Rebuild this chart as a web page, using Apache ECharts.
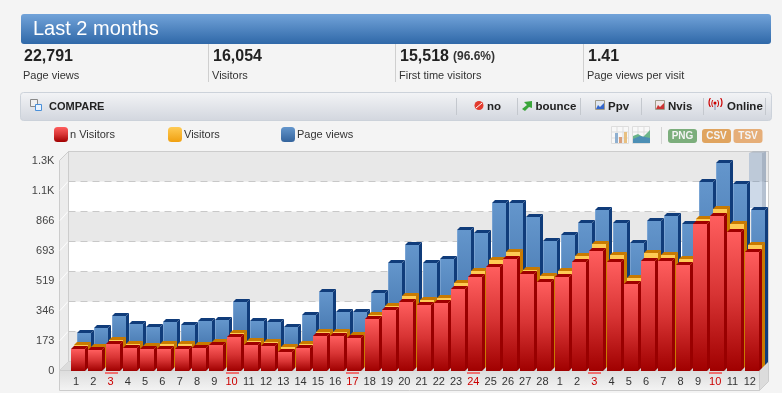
<!DOCTYPE html>
<html><head><meta charset="utf-8">
<style>html,body{margin:0;padding:0;background:#f4f4f4}#c{width:782px;height:393px}</style>
<script src="https://cdn.jsdelivr.net/npm/echarts@6/dist/echarts.min.js"></script>
</head><body><div id="c"></div>
<script>
const categories = ['1','2','3','4','5','6','7','8','9','10','11','12','13','14','15','16','17','18','19','20','21','22','23','24','25','26','27','28','1','2','3','4','5','6','7','8','9','10','11','12'];
const nVisitors = [122,118,153,132,122,126,124,130,147,195,149,143,109,128,201,201,186,296,350,398,377,392,469,542,600,642,556,510,539,629,690,629,500,634,631,610,845,894,802,686];
const visitors = [128,120,161,136,124,134,136,130,150,199,151,147,118,138,205,205,188,305,355,411,390,400,490,556,621,665,563,529,559,646,714,652,517,662,652,629,860,918,829,706];
const pageViews = [184,209,280,232,217,246,228,250,257,361,253,247,217,286,421,305,301,413,585,690,588,610,779,762,931,931,854,713,746,817,892,819,700,827,860,810,1056,1166,1041,892];
const yTickLabels = ['0','173','346','519','693','866','1.1K','1.3K'];
const markedDays = [2,9,16,23,30,37];
const stats = [['22,791','Page views'],['16,054','Visitors'],['15,518','First time visitors'],['1.41','Page views per visit']];

const FONT = '"Liberation Sans", Arial, sans-serif';
const yInterval = 520 / 3, yMax = yInterval * 7;
const L = (a, b) => new echarts.graphic.LinearGradient(0, 0, 0, 1, [{offset:0,color:a},{offset:1,color:b}]);
const L3 = (a, m, b) => new echarts.graphic.LinearGradient(0, 0, 0, 1, [{offset:0,color:a},{offset:.5,color:m},{offset:1,color:b}]);

function barLayer(name, values, depth, front, top, side, stroke, z) {
  return {
    type: 'custom', name, z, clip: false, silent: true,
    xAxisIndex: 0, yAxisIndex: 0, encode: {x: 0, y: 1},
    itemStyle: {color: front},
    data: values.map((v, i) => [i, v]),
    renderItem(params, api) {
      const p = api.coord([api.value(0), api.value(1)]);
      const b = api.coord([api.value(0), 0]);
      const x0 = Math.round(p[0] + 2 - 7 + depth), x1 = x0 + 14;
      const y0 = Math.round(p[1] - depth), y1 = Math.round(b[1] - depth);
      const d = 3;
      const kids = [
        {type:'polygon', shape:{points:[[x1,y0],[x1+d,y0-d],[x1+d,y1-d],[x1,y1]]}, style:{fill:side}},
        {type:'polygon', shape:{points:[[x0,y0],[x0+d,y0-d],[x1+d,y0-d],[x1,y0]]}, style:{fill:top}},
        {type:'rect', shape:{x:x0,y:y0,width:14,height:y1-y0}, style:{fill:front}}
      ];
      if (stroke) kids.push({type:'line', shape:{x1:x0+.5,y1:y0,x2:x0+.5,y2:y1}, style:{stroke,lineWidth:1}});
      return {type: 'group', children: kids};
    }
  };
}

const g = [];
const rect = (x,y,w,h,fill,extra={}) => g.push(Object.assign({type:'rect',shape:{x,y,width:w,height:h,r:extra.r||0},style:{fill,stroke:extra.stroke||null,lineWidth:extra.stroke?1:0},z:extra.z||1,silent:true}));
const poly = (points,fill,stroke,z=1) => g.push({type:'polygon',shape:{points},style:{fill,stroke:stroke||null,lineWidth:stroke?1:0},z,silent:true});
const line = (x1,y1,x2,y2,color,z=1,dash) => g.push({type:'line',shape:{x1,y1,x2,y2},style:{stroke:color,lineWidth:1,lineDash:dash||null},z,silent:true});
const text = (x,y,t,size,color,weight='normal',align='left') => g.push({type:'text',x,y,z:10,silent:true,style:{text:t,font:`${weight} ${size}px ${FONT}`,fill:color,textAlign:align,textVerticalAlign:'middle'}});

/* header */
rect(21,14,750,30,L('#72a3d9','#2f68a8'),{r:3});
text(33,29.5,'Last 2 months',20,'#ffffff');
const statX = [23,212,399,587];
stats.forEach((s,i)=>{
  text(statX[i]+1,56.5,s[0],16,'#222222','bold');
  text(statX[i],75.5,s[1],11,'#333333');
});
text(453,57,'(96.6%)',12,'#333333','bold');
[208.5,395.5,583.5].forEach(x=>line(x,44,x,82,'#cfcfcf'));

/* compare bar */
rect(20.5,92.5,751,28,L('#f3f4f6','#d2d6de'),{r:3,stroke:'#ccd2da'});
rect(30.5,99.5,7,7,'#f0f0f0',{stroke:'#888888'});
rect(35.5,104.5,6,6,'#e8f3ff',{stroke:'#4a90d9'});
text(49,107,'COMPARE',11,'#222222','bold');
[456.5,517.5,580.5,641.5,703.5,765.5].forEach(x=>line(x,98,x,115,'#c4c8ce'));
[['no',487],['bounce',535.5],['Ppv',608],['Nvis',668],['Online',727]].forEach(b=>text(b[1],106.5,b[0],11.5,'#222222','bold'));
/* button icons */
g.push({type:'circle',shape:{cx:479,cy:105.5,r:4.5},style:{fill:'#e23b2e'},z:10,silent:true});
line(476,108,482,103,'#ffffff',11);
poly([[522,109],[527,105],[524,102],[532,101],[532,108],[529,107],[525,111]],'#3aa53a',null,10);
rect(595.5,100.5,9,9,'#dfe6ef',{stroke:'#a09a8a',z:10});
poly([[596,109],[598,105],[600,107],[604,103],[604,109]],'#3366cc',null,11);
rect(655.5,100.5,9,9,'#efe6e6',{stroke:'#a09a8a',z:10});
poly([[656,109],[658,105],[660,107],[664,103],[664,109]],'#cc3333',null,11);
text(708,103,'(',9,'#cc0000','bold'); text(720,103,')',9,'#cc0000','bold');
text(711,103,'(',7,'#cc0000','bold'); text(717,103,')',7,'#cc0000','bold');
line(715,103,715,110,'#8888aa',11);
g.push({type:'circle',shape:{cx:715,cy:103,r:1.5},style:{fill:'#cc0000'},z:11,silent:true});

/* chart-type icons and export badges */
[611,632].forEach(x=>{
  rect(x+.5,126.5,17,17,'#f8f8f8',{stroke:'#dddddd'});
  [1,2].forEach(k=>{line(x+k*6,127,x+k*6,143,'#dddddd',2);line(x,126+k*6,x+17,126+k*6,'#dddddd',2);});
});
rect(615,133,3,10,'#8fb0d0',{z:3}); rect(619,137,3,6,'#d9a07c',{z:3}); rect(624,132,3,11,'#e8c080',{z:3});
poly([[633,143],[633,136],[638,134],[643,137],[650,130],[650,143]],'#6bb58a',null,3);
poly([[633,143],[633,139],[640,136],[650,138],[650,143]],'#4c8fb5',null,4);
line(661.5,127,661.5,144,'#d4d4d4');
const badge=(x,w,t,c)=>{rect(x,129,w,14,c,{r:3});text(x+w/2,136.5,t,10,'#f4f4f4','bold','center');};
badge(668,29,'PNG','#7cae7c'); badge(702,29,'CSV','#e0a45f'); badge(733.5,29,'TSV','#e6ae78');

/* 3-D frame */
poly([[59.5,160.5],[68.5,151.5],[68.5,361.5],[59.5,370.5]],'#ececec','#cccccc');
yTickLabels.forEach((t,i)=>{ if(i>0&&i<7) line(60,370.5-30*i,68,361.5-30*i,'#ffffff',1); });
poly([[59.5,370.5],[68.5,361.5],[768.5,361.5],[759.5,370.5]],'#dcdcdc');
rect(59.5,370.5,700,20,L('#dcdcdc','#f4f4f4'),{stroke:'#cccccc'});
poly([[759.5,370.5],[768.5,361.5],[768.5,381.5],[759.5,390.5]],'#dcdcdc','#cccccc');
line(68.5,151.5,768.5,151.5,'#cccccc');
line(68.5,151.5,68.5,361.5,'#cccccc');
line(768.5,151.5,768.5,361.5,'#cccccc');
/* hover column */
rect(749,153,13,55,'rgba(88,128,178,0.3)');
poly([[762,153],[766,151.5],[766,208],[762,208]],'rgba(70,100,140,0.4)');
poly([[749,153],[753,151.5],[766,151.5],[762,153]],'rgba(70,100,140,0.3)');

const chart = echarts.init(document.getElementById('c'), null, {renderer:'canvas'});
const red = L3('#ff5e5e','#d83434','#a00000');
const orange = L('#ffcb55','#f0a010');
const blue = L('#6496cc','#33639c');
const legendCommon = {top:127,padding:0,itemWidth:14,itemHeight:15,itemGap:2,selectedMode:false,icon:'roundRect',
  textStyle:{fontFamily:FONT,fontSize:11,color:'#333333',padding:[0,0,0,-3]}};
chart.setOption({
  animation:false,
  backgroundColor:'#f4f4f4',
  textStyle:{fontFamily:FONT},
  legend:[
    Object.assign({},legendCommon,{left:54,data:['n Visitors']}),
    Object.assign({},legendCommon,{left:168,data:['Visitors']}),
    Object.assign({},legendCommon,{left:281,data:['Page views']})
  ],
  grid:[
    {left:67.4,width:691,top:160.5,height:210,containLabel:false},
    {left:68.5,width:700,top:151.5,height:210,containLabel:false}
  ],
  xAxis:[
    {type:'category',gridIndex:0,data:categories,z:5,boundaryGap:true,
      axisLine:{show:false},axisTick:{show:false},splitLine:{show:false},
      axisLabel:{interval:0,margin:6,fontSize:11,fontFamily:FONT,hideOverlap:false,
        color:(v,i)=>markedDays.includes(i)?'#cc0000':'#333333'}},
    {type:'category',gridIndex:1,data:categories,show:false}
  ],
  yAxis:[
    {type:'value',gridIndex:0,min:0,max:yMax,interval:yInterval,z:5,
      axisLine:{show:false},axisTick:{show:false},splitLine:{show:false},
      axisLabel:{margin:13,fontSize:11,fontFamily:FONT,color:'#444444',
        formatter:v=>yTickLabels[Math.round(v/yInterval)]}},
    {type:'value',gridIndex:1,min:0,max:yMax,interval:yInterval,
      axisLine:{show:false},axisTick:{show:false},axisLabel:{show:false},
      splitLine:{show:true,lineStyle:{color:'#c8c8c8',type:[7,5],width:1}},
      splitArea:{show:true,areaStyle:{color:['#e8e8e8','#ffffff']}}}
  ],
  graphic:{elements:g},
  series:[
    barLayer('Page views',pageViews,6,blue,'#103c7a','#103c7a','rgba(170,198,232,0.35)',3),
    barLayer('Visitors',visitors,3,orange,'#c97a00','#c97a00',null,4),
    barLayer('n Visitors',nVisitors,0,red,'#a00000','#990000',null,5),
    {type:'custom',name:'marks',z:6,silent:true,clip:false,xAxisIndex:0,yAxisIndex:0,encode:{x:0,y:1},
      data:markedDays.map(i=>[i,0]),
      renderItem(params,api){
        const p=api.coord([api.value(0),0]);
        return {type:'rect',shape:{x:Math.round(p[0])-6,y:Math.round(p[1])+1,width:13,height:2},style:{fill:'#f07070'}};
      }}
  ]
});
</script></body></html>
